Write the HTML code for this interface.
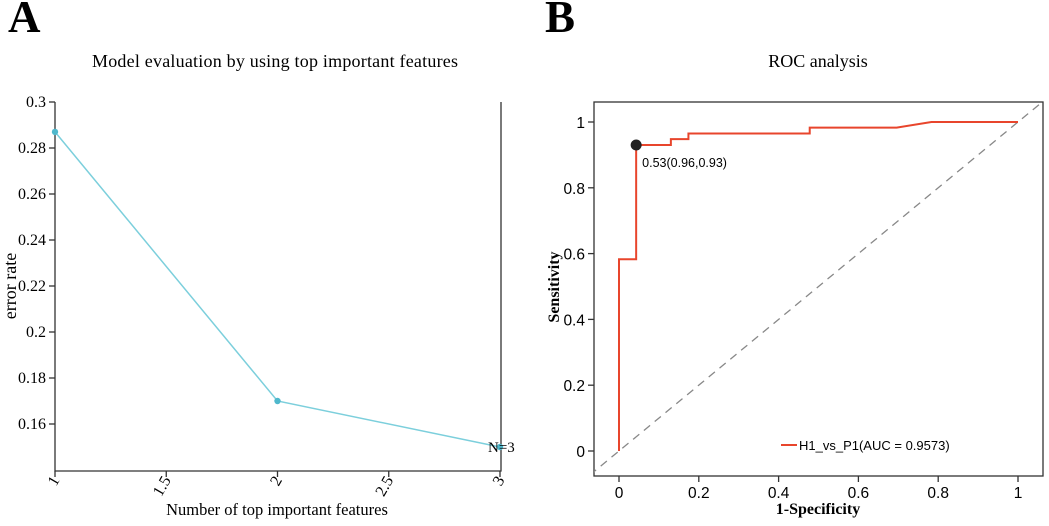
<!DOCTYPE html>
<html><head><meta charset="utf-8"><style>
html,body{margin:0;padding:0;background:#fff;}
svg{display:block;}
.serif{font-family:"Liberation Serif",serif;}
.sans{font-family:"Liberation Sans",sans-serif;}
</style></head><body>
<svg id="fig" width="1049" height="526" viewBox="0 0 1049 526" xmlns="http://www.w3.org/2000/svg">
<text x="8" y="32" class="serif" font-size="45" font-weight="bold">A</text>
<text x="545" y="32" class="serif" font-size="45" font-weight="bold">B</text>
<text x="275" y="67" text-anchor="middle" class="serif" font-size="18" textLength="366">Model evaluation by using top important features</text>
<text x="818" y="67" text-anchor="middle" class="serif" font-size="18">ROC analysis</text>
<g id="a"></g>
<g id="b"></g>
</svg>
<script>
const NS="http://www.w3.org/2000/svg";
function mk(p,t,a){const e=document.createElementNS(NS,t);for(const k in a)e.setAttribute(k,a[k]);p.appendChild(e);return e;}

// Chart A data
const featCounts=[1,2,3];
const errorRates=[0.287,0.170,0.150];
const aYTicks=[0.16,0.18,0.2,0.22,0.24,0.26,0.28,0.3];
const aYTickLabels=["0.16","0.18","0.2","0.22","0.24","0.26","0.28","0.3"];
const aXTicks=[1,1.5,2,2.5,3];
const aXTickLabels=["1","1.5","2","2.5","3"];

// Chart B data
const rocFpr=[0,0,0.043,0.043,0.13,0.13,0.174,0.174,0.478,0.478,0.696,0.783,1];
const rocTpr=[0,0.583,0.583,0.93,0.93,0.948,0.948,0.965,0.965,0.983,0.983,1,1];
const bestPoint=[0.043,0.93];
const bestLabel="0.53(0.96,0.93)";
const bTicks=[0,0.2,0.4,0.6,0.8,1];
const bTickLabels=["0","0.2","0.4","0.6","0.8","1"];

// ---- Chart A
const A=document.getElementById('a');
const ax=v=>55+(v-1)*(500-55)/2;
const ay=v=>102+(0.3-v)*(424-102)/0.14;
let l;
l=mk(A,'path',{d:'M55,102 V471 H501 V102',fill:'none',stroke:'#333','stroke-width':1.3});

aYTicks.forEach((v,i)=>{
 const t=mk(A,'line',{x1:49,x2:55,y1:ay(v),y2:ay(v),stroke:'#333','stroke-width':1.3});
 
 const tx=mk(A,'text',{x:46,y:ay(v)+5,'text-anchor':'end','class':'serif','font-size':16});
 tx.textContent=aYTickLabels[i];
 
});
aXTicks.forEach((v,i)=>{
 const t=mk(A,'line',{x1:ax(v),x2:ax(v),y1:471,y2:477,stroke:'#333','stroke-width':1.3});
 
 const tx=mk(A,'text',{x:0,y:0,'text-anchor':'end','class':'serif','font-size':16,transform:`translate(${ax(v)+5},${480}) rotate(-60)`});
 tx.textContent=aXTickLabels[i];
 
});
const pl=mk(A,'polyline',{points:featCounts.map((c,i)=>ax(c)+','+ay(errorRates[i])).join(' '),fill:'none',stroke:'#7ccfdc','stroke-width':1.5});

featCounts.forEach((c,i)=>{
 const p=mk(A,'circle',{cx:ax(c),cy:ay(errorRates[i]),r:3.2,fill:'#4fb8cc'});
 
});
l=mk(A,'text',{x:ax(3)-12,y:ay(errorRates[2])+5,'class':'serif','font-size':15});
l.textContent='N=3';
l=mk(A,'text',{x:0,y:0,'text-anchor':'middle','class':'serif','font-size':18,transform:'translate(16,286) rotate(-90)'});
l.textContent='error rate';
l=mk(A,'text',{x:277,y:515,'text-anchor':'middle','class':'serif','font-size':16.5});
l.textContent='Number of top important features';

// ---- Chart B
const B=document.getElementById('b');
const bx=v=>619+v*(1018-619);
const by=v=>451-v*(451-122);
l=mk(B,'rect',{x:594,y:102,width:449,height:374,fill:'none',stroke:'#333','stroke-width':1.3});

const cp=mk(B,'clipPath',{id:'bc'});mk(cp,'rect',{x:594,y:102,width:449,height:374});
l=mk(B,'line',{x1:bx(-0.1),y1:by(-0.1),x2:bx(1.1),y2:by(1.1),stroke:'#888','stroke-width':1.3,'stroke-dasharray':'8,6','clip-path':'url(#bc)'});

bTicks.forEach((v,i)=>{
 let t=mk(B,'line',{x1:588,x2:594,y1:by(v),y2:by(v),stroke:'#333','stroke-width':1.3});
 
 let tx=mk(B,'text',{x:585,y:by(v)+6,'text-anchor':'end','class':'sans','font-size':15.5});
 tx.textContent=bTickLabels[i];
 t=mk(B,'line',{x1:bx(v),x2:bx(v),y1:476,y2:482,stroke:'#333','stroke-width':1.3});
 
 tx=mk(B,'text',{x:bx(v),y:498,'text-anchor':'middle','class':'sans','font-size':15.5});
 tx.textContent=bTickLabels[i];
});
const roc=mk(B,'polyline',{points:rocFpr.map((f,i)=>bx(f)+','+by(rocTpr[i])).join(' '),fill:'none',stroke:'#e8452c','stroke-width':2});

l=mk(B,'circle',{cx:bx(bestPoint[0]),cy:by(bestPoint[1]),r:5.5,fill:'#222'});

l=mk(B,'text',{x:bx(bestPoint[0])+6,y:by(bestPoint[1])+22,'class':'sans','font-size':12.5});
l.textContent=bestLabel;
l=mk(B,'line',{x1:781,x2:797,y1:445,y2:445,stroke:'#e8452c','stroke-width':2});

l=mk(B,'text',{x:799,y:450,'class':'sans','font-size':13});
l.textContent='H1_vs_P1(AUC = 0.9573)';
l=mk(B,'text',{x:0,y:0,'text-anchor':'middle','class':'serif','font-size':16,'font-weight':'bold',transform:'translate(559,287) rotate(-90)'});
l.textContent='Sensitivity';
l=mk(B,'text',{x:818,y:514,'text-anchor':'middle','class':'serif','font-size':16,'font-weight':'bold'});
l.textContent='1-Specificity';
</script>
</body></html>
